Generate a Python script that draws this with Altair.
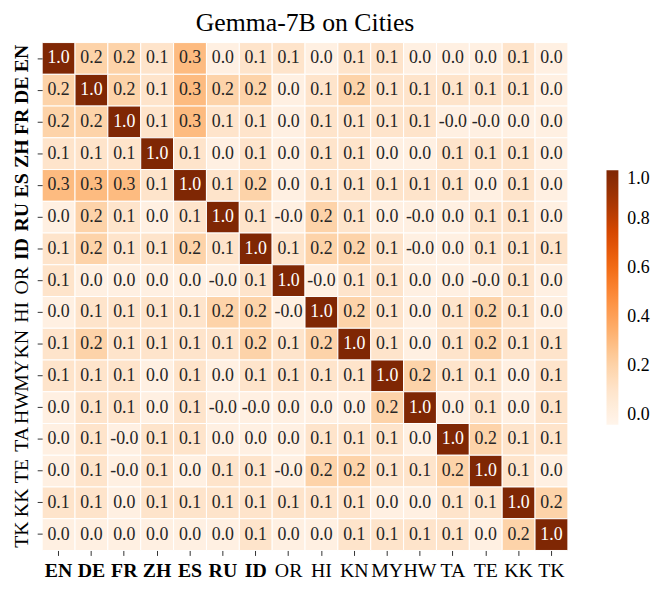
import altair as alt
import pandas as pd

langs = ["EN", "DE", "FR", "ZH", "ES", "RU", "ID", "OR",
         "HI", "KN", "MY", "HW", "TA", "TE", "KK", "TK"]
bold_langs = ["EN", "DE", "FR", "ZH", "ES", "RU", "ID"]

row_EN = [1.0, 0.2, 0.2, 0.1, 0.3, 0.0, 0.1, 0.1, 0.0, 0.1, 0.1, 0.0, 0.0, 0.0, 0.1, 0.0]
row_DE = [0.2, 1.0, 0.2, 0.1, 0.3, 0.2, 0.2, 0.0, 0.1, 0.2, 0.1, 0.1, 0.1, 0.1, 0.1, 0.0]
row_FR = [0.2, 0.2, 1.0, 0.1, 0.3, 0.1, 0.1, 0.0, 0.1, 0.1, 0.1, 0.1, -0.0, -0.0, 0.0, 0.0]
row_ZH = [0.1, 0.1, 0.1, 1.0, 0.1, 0.0, 0.1, 0.0, 0.1, 0.1, 0.0, 0.0, 0.1, 0.1, 0.1, 0.0]
row_ES = [0.3, 0.3, 0.3, 0.1, 1.0, 0.1, 0.2, 0.0, 0.1, 0.1, 0.1, 0.1, 0.1, 0.0, 0.1, 0.0]
row_RU = [0.0, 0.2, 0.1, 0.0, 0.1, 1.0, 0.1, -0.0, 0.2, 0.1, 0.0, -0.0, 0.0, 0.1, 0.1, 0.0]
row_ID = [0.1, 0.2, 0.1, 0.1, 0.2, 0.1, 1.0, 0.1, 0.2, 0.2, 0.1, -0.0, 0.0, 0.1, 0.1, 0.1]
row_OR = [0.1, 0.0, 0.0, 0.0, 0.0, -0.0, 0.1, 1.0, -0.0, 0.1, 0.1, 0.0, 0.0, -0.0, 0.1, 0.0]
row_HI = [0.0, 0.1, 0.1, 0.1, 0.1, 0.2, 0.2, -0.0, 1.0, 0.2, 0.1, 0.0, 0.1, 0.2, 0.1, 0.0]
row_KN = [0.1, 0.2, 0.1, 0.1, 0.1, 0.1, 0.2, 0.1, 0.2, 1.0, 0.1, 0.0, 0.1, 0.2, 0.1, 0.1]
row_MY = [0.1, 0.1, 0.1, 0.0, 0.1, 0.0, 0.1, 0.1, 0.1, 0.1, 1.0, 0.2, 0.1, 0.1, 0.0, 0.1]
row_HW = [0.0, 0.1, 0.1, 0.0, 0.1, -0.0, -0.0, 0.0, 0.0, 0.0, 0.2, 1.0, 0.0, 0.1, 0.0, 0.1]
row_TA = [0.0, 0.1, -0.0, 0.1, 0.1, 0.0, 0.0, 0.0, 0.1, 0.1, 0.1, 0.0, 1.0, 0.2, 0.1, 0.1]
row_TE = [0.0, 0.1, -0.0, 0.1, 0.0, 0.1, 0.1, -0.0, 0.2, 0.2, 0.1, 0.1, 0.2, 1.0, 0.1, 0.0]
row_KK = [0.1, 0.1, 0.0, 0.1, 0.1, 0.1, 0.1, 0.1, 0.1, 0.1, 0.0, 0.0, 0.1, 0.1, 1.0, 0.2]
row_TK = [0.0, 0.0, 0.0, 0.0, 0.0, 0.0, 0.1, 0.0, 0.0, 0.1, 0.1, 0.1, 0.1, 0.0, 0.2, 1.0]

rows = [row_EN, row_DE, row_FR, row_ZH, row_ES, row_RU, row_ID, row_OR,
        row_HI, row_KN, row_MY, row_HW, row_TA, row_TE, row_KK, row_TK]

# matplotlib "Oranges" colour stops
oranges = ["#fff5eb", "#fee6ce", "#fdd0a2", "#fdae6b", "#fd8d3c",
           "#f16913", "#d94801", "#a63603", "#7f2704"]
vmin, vmax = -0.04, 1.0

records = []
for rl, row in zip(langs, rows):
    for cl, v in zip(langs, row):
        records.append({"row": rl, "col": cl, "value": v, "label": f"{v:.1f}"})
df = pd.DataFrame(records)

stops = [vmin + (vmax - vmin) * i / (len(oranges) - 1) for i in range(len(oranges))]

FONT = "Liberation Serif"
bold_test = "indexof(" + str(bold_langs) + ", datum.value) >= 0"
weight_cond = {"condition": {"test": bold_test, "value": "bold"}, "value": "normal"}

base = alt.Chart(df).encode(
    x=alt.X("col:N", sort=langs, title=None,
            axis=alt.Axis(labelAngle=0, labelFontSize=20, labelFont=FONT,
                          labelColor="black", labelFontWeight=weight_cond,
                          tickSize=5, tickColor="#333333", labelPadding=5,
                          domain=False)),
    y=alt.Y("row:N", sort=langs, title=None,
            axis=alt.Axis(labelAngle=270, labelAlign="center", labelBaseline="bottom",
                          labelFontSize=20, labelFont=FONT, labelColor="black",
                          labelFontWeight=weight_cond, tickSize=5,
                          tickColor="#333333", labelPadding=6, domain=False)),
)

rects = base.mark_rect(stroke="white", strokeWidth=1).encode(
    color=alt.Color("value:Q",
                    scale=alt.Scale(domain=stops, range=oranges, interpolate="rgb"),
                    legend=alt.Legend(title=None, orient="none", legendX=570, legendY=129,
                                      gradientLength=257, gradientThickness=12,
                                      gradientStrokeWidth=0,
                                      values=[0.0, 0.2, 0.4, 0.6, 0.8, 1.0], format=".1f",
                                      labelFont=FONT, labelFontSize=18,
                                      labelColor="black", labelOffset=9))
)

texts = base.mark_text(font=FONT, fontSize=18).encode(
    text="label:N",
    color=alt.condition("datum.value > 0.5", alt.value("white"), alt.value("#262626")),
)

chart = (rects + texts).properties(
    width=531, height=513,
    title=alt.TitleParams("Gemma-7B on Cities", font=FONT, fontSize=26,
                          fontWeight="normal", color="black", offset=6, anchor="middle"),
    autosize=alt.AutoSizeParams(type="none"),
    padding={"left": 34.5, "top": 32, "right": 90, "bottom": 36},
).configure_view(stroke=None)

chart.save("out.html", embed_options={"renderer": "svg", "actions": False})
